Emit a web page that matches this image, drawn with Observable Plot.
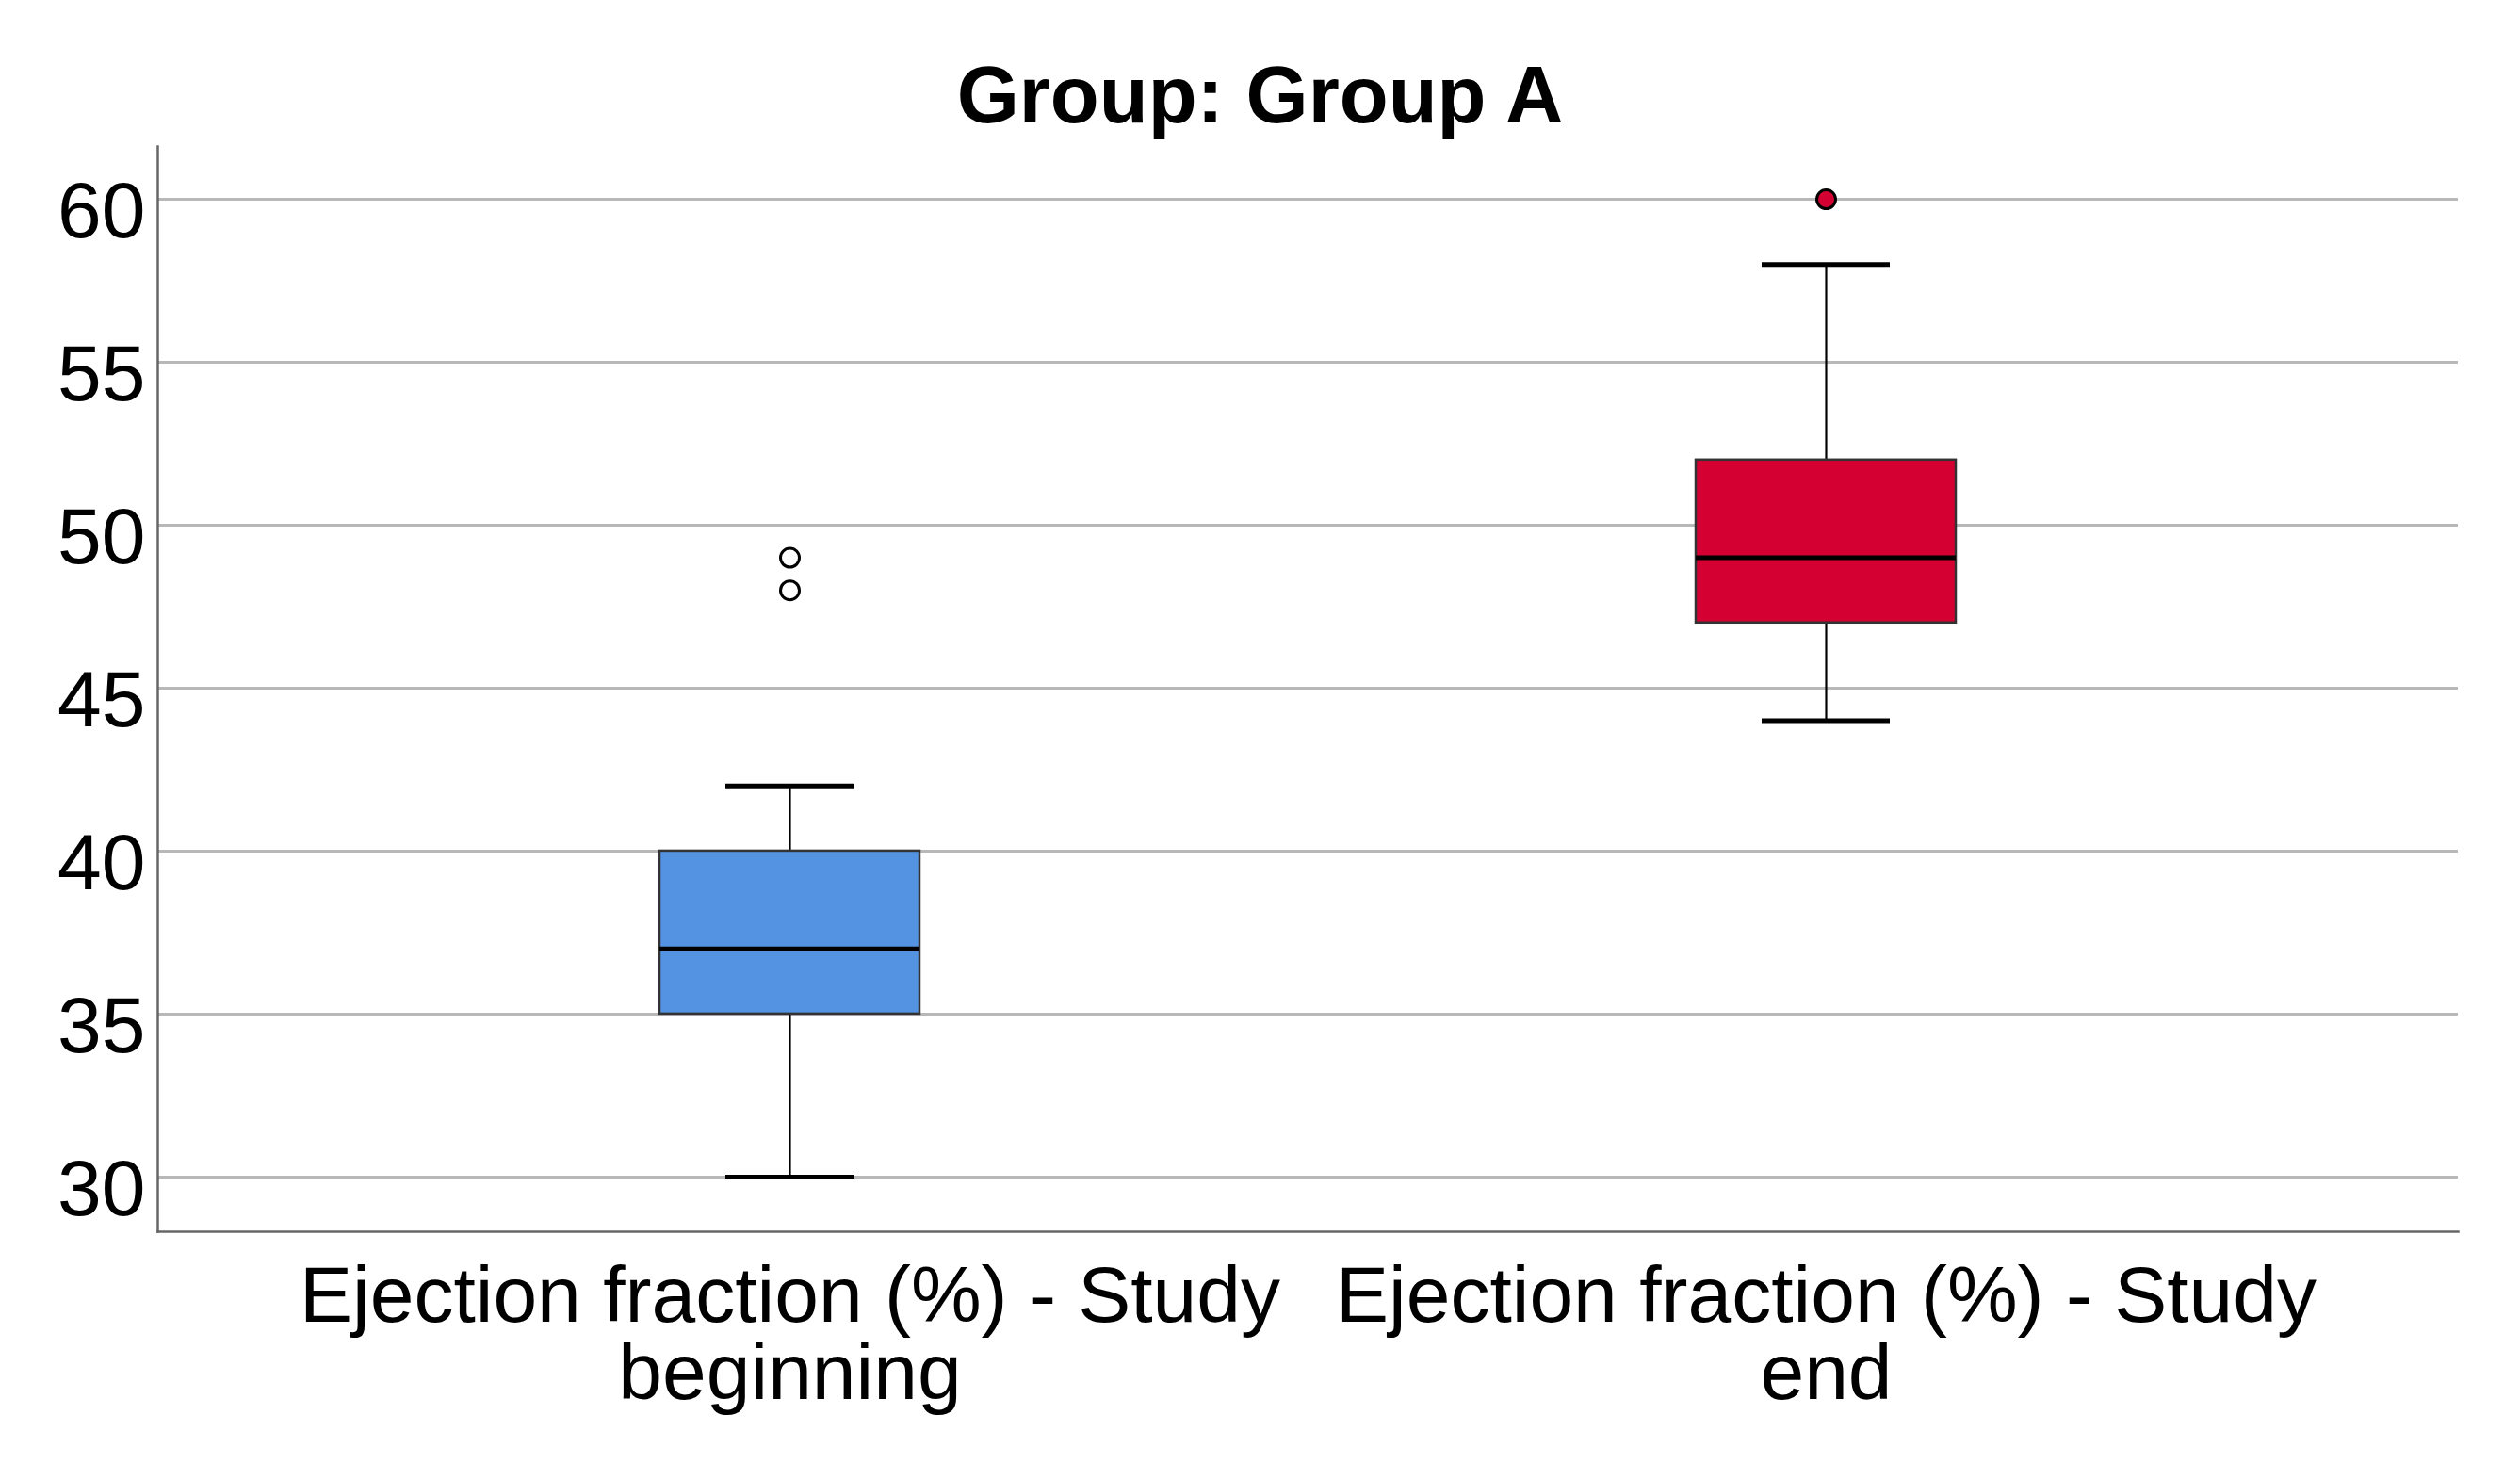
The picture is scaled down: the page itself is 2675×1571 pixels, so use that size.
<!DOCTYPE html>
<html>
<head>
<meta charset="utf-8">
<script src="https://cdn.jsdelivr.net/npm/d3@7"></script>
<script src="https://cdn.jsdelivr.net/npm/@observablehq/plot@0.6"></script>
<style>
  html, body { margin: 0; padding: 0; background: #ffffff; }
  #wrap { width: 2675px; height: 1571px; position: relative; overflow: hidden; }
  #title {
    font-family: "Liberation Sans", Arial, sans-serif;
    font-weight: bold; font-size: 85px; line-height: 85px;
    text-align: center; padding-top: 58px; height: 85px; color: #000;
  }
</style>
</head>
<body>
<div id="wrap">
  <div id="title">Group: Group A</div>
  <div id="chart"></div>
</div>
<script>
const categories = ["Ejection fraction (%) - Study beginning", "Ejection fraction (%) - Study end"];
const tickLabels = ["Ejection fraction (%) - Study\nbeginning", "Ejection fraction (%) - Study\nend"];
const whiskerLow = [30, 44];
const q1 = [35, 47];
const median = [37, 49];
const q3 = [40, 52];
const whiskerHigh = [42, 58];
const boxColors = ["#5493e2", "#d50032"];
const outlierCategory = [0, 0, 1];
const outlierValues = [49, 48, 60];
const outlierFill = ["#ffffff", "#ffffff", "#d50032"];
const yTicks = [30, 35, 40, 45, 50, 55, 60];
const yDomain = [28.32, 61.62];

const boxes = categories.map((c, i) => ({
  cat: c, lo: whiskerLow[i], q1: q1[i], med: median[i], q3: q3[i], hi: whiskerHigh[i], color: boxColors[i]
}));
const outliers = outlierValues.map((v, i) => ({cat: categories[outlierCategory[i]], value: v, fill: outlierFill[i]}));

const chart = Plot.plot({
  width: 2675,
  height: 1428,
  marginTop: 12,
  marginBottom: 264,
  marginLeft: 167,
  marginRight: 66,
  style: {fontFamily: "Liberation Sans, Arial, sans-serif", fontSize: "84px", color: "#000", background: "#fff"},
  x: {type: "band", domain: categories, paddingInner: 0.749, paddingOuter: 0.4845, label: null},
  y: {domain: yDomain, label: null},
  color: {type: "identity"},
  marks: [
    Plot.ruleY(yTicks, {stroke: "#b8b8b8", strokeWidth: 3}),
    Plot.ruleX(boxes, {x: "cat", y1: "lo", y2: "hi", stroke: "#000", strokeWidth: 2.2}),
    Plot.tickY(boxes, {x: "cat", y: "lo", stroke: "#000", strokeWidth: 5, insetLeft: 70, insetRight: 70}),
    Plot.tickY(boxes, {x: "cat", y: "hi", stroke: "#000", strokeWidth: 5, insetLeft: 70, insetRight: 70}),
    Plot.barY(boxes, {x: "cat", y1: "q1", y2: "q3", fill: "color", stroke: "#333", strokeWidth: 2.5}),
    Plot.tickY(boxes, {x: "cat", y: "med", stroke: "#000", strokeWidth: 5}),
    Plot.dot(outliers, {x: "cat", y: "value", r: 10, fill: "fill", stroke: "#000", strokeWidth: 3}),
    Plot.axisY({ticks: yTicks, tickSize: 0, tickPadding: 13, fontSize: 84, dy: 14, fill: "#000", label: null}),
    Plot.axisX({tickSize: 0, tickPadding: 37, fontSize: 84, lineHeight: 0.975, fill: "#000", label: null,
      tickFormat: d => tickLabels[categories.indexOf(d)]}),
    Plot.frame({anchor: "left", stroke: "#666", strokeWidth: 2.5}),
    Plot.frame({anchor: "bottom", stroke: "#666", strokeWidth: 2.5})
  ]
});
document.getElementById("chart").appendChild(chart);
</script>
</body>
</html>
